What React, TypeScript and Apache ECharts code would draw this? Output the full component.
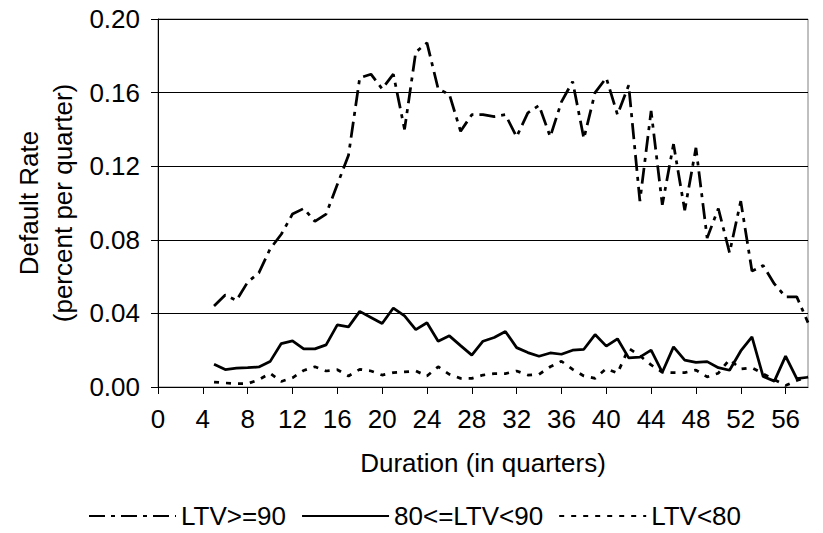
import React, { useEffect, useRef } from "react";
import * as echarts from "echarts";

const durations = [5, 6, 7, 8, 9, 10, 11, 12, 13, 14, 15, 16, 17, 18, 19, 20, 21, 22, 23, 24, 25, 26, 27, 28, 29, 30, 31, 32, 33, 34, 35, 36, 37, 38, 39, 40, 41, 42, 43, 44, 45, 46, 47, 48, 49, 50, 51, 52, 53, 54, 55, 56, 57, 58];

const ltvGe90 = [0.044, 0.050, 0.047, 0.057, 0.062, 0.075, 0.083, 0.094, 0.097, 0.090, 0.094, 0.110, 0.126, 0.168, 0.170, 0.162, 0.170, 0.140, 0.182, 0.187, 0.162, 0.159, 0.139, 0.148, 0.148, 0.147, 0.148, 0.136, 0.149, 0.153, 0.136, 0.155, 0.166, 0.135, 0.160, 0.168, 0.148, 0.164, 0.101, 0.150, 0.099, 0.132, 0.096, 0.130, 0.081, 0.097, 0.073, 0.101, 0.063, 0.066, 0.056, 0.049, 0.049, 0.035];

const ltv80to90 = [0.0124, 0.0095, 0.0102, 0.0105, 0.0109, 0.0138, 0.0236, 0.0251, 0.0207, 0.0207, 0.0229, 0.0338, 0.0327, 0.0411, 0.0378, 0.0345, 0.0429, 0.0387, 0.0312, 0.0349, 0.0249, 0.0278, 0.0225, 0.0173, 0.0249, 0.0269, 0.0302, 0.0214, 0.0187, 0.0167, 0.0185, 0.0178, 0.0200, 0.0205, 0.0285, 0.0222, 0.0262, 0.0158, 0.0162, 0.0200, 0.0080, 0.0218, 0.0146, 0.0134, 0.0138, 0.0105, 0.0091, 0.0196, 0.0272, 0.0057, 0.0032, 0.0168, 0.0045, 0.0053];

const ltvLt80 = [0.0027, 0.0022, 0.0018, 0.0018, 0.0040, 0.0075, 0.0030, 0.0050, 0.0090, 0.0110, 0.0087, 0.0094, 0.0060, 0.0096, 0.0087, 0.0065, 0.0078, 0.0082, 0.0087, 0.0060, 0.0110, 0.0069, 0.0047, 0.0047, 0.0065, 0.0073, 0.0073, 0.0087, 0.0065, 0.0069, 0.0110, 0.0140, 0.0096, 0.0060, 0.0047, 0.0100, 0.0075, 0.0210, 0.0170, 0.0120, 0.0080, 0.0078, 0.0078, 0.0092, 0.0055, 0.0075, 0.0150, 0.0098, 0.0105, 0.0072, 0.0040, 0.0008, 0.0035, 0.0055];

const seriesNames = ["LTV>=90", "80<=LTV<90", "LTV<80"];
const xTicks = [0, 4, 8, 12, 16, 20, 24, 28, 32, 36, 40, 44, 48, 52, 56];
const xTitle = "Duration (in quarters)";
const yTitle = "Default Rate\n(percent per quarter)";

const FONT = "'Liberation Sans', Arial, sans-serif";
const FS = 26;

export default function App() {
  const ref = useRef<HTMLDivElement>(null);
  useEffect(() => {
    if (!ref.current) return;
    const chart = echarts.init(ref.current, undefined, { renderer: "svg" });
    const zip = (vals: number[]) => durations.map((d, i) => [d, vals[i]]);
    const option: any = {
      animation: false,
      backgroundColor: "#ffffff",
      textStyle: { fontFamily: FONT, color: "#000" },
      grid: {
        left: 158,
        right: 15,
        top: 19,
        bottom: 146,
        show: true,
        borderColor: "#808080",
        borderWidth: 1,
      },
      xAxis: {
        type: "value",
        min: 0,
        max: 58,
        interval: 4,
        axisLine: { show: true, lineStyle: { color: "#000", width: 1 } },
        axisTick: { show: true, length: 7, customValues: xTicks, lineStyle: { color: "#000" } },
        axisLabel: { customValues: xTicks, fontSize: FS, color: "#000", margin: 19, fontFamily: FONT },
        splitLine: { show: false },
        name: xTitle,
        nameLocation: "middle",
        nameGap: 63,
        nameTextStyle: { fontSize: FS, color: "#000", fontFamily: FONT },
      },
      yAxis: {
        type: "value",
        min: 0,
        max: 0.2,
        interval: 0.04,
        axisLine: { show: true, lineStyle: { color: "#000", width: 1 } },
        axisTick: { show: true, length: 7, lineStyle: { color: "#000" } },
        axisLabel: {
          fontSize: FS,
          color: "#000",
          margin: 18,
          fontFamily: FONT,
          formatter: (v: number) => v.toFixed(2),
        },
        splitLine: { show: true, lineStyle: { color: "#000", width: 1 } },
      },
      legend: {
        data: seriesNames,
        top: 503,
        left: 88,
        padding: 0,
        itemWidth: 87,
        itemHeight: 14,
        itemGap: 15,
        itemStyle: { opacity: 0, color: "transparent", borderWidth: 0 },
        textStyle: { fontSize: FS, lineHeight: 26, color: "#000", fontFamily: FONT },
      },
      graphic: [
        {
          type: "text",
          x: 46,
          y: 203,
          rotation: Math.PI / 2,
          style: {
            text: yTitle,
            fontSize: FS,
            fontFamily: FONT,
            fill: "#000",
            align: "center",
            verticalAlign: "middle",
            lineHeight: 34,
          },
        },
      ],
      series: [
        {
          name: seriesNames[0],
          type: "line",
          data: zip(ltvGe90),
          symbol: "none",
          itemStyle: { color: "#000" },
          lineStyle: { color: "#000", width: 2.75, type: [16, 6, 4, 6] },
        },
        {
          name: seriesNames[1],
          type: "line",
          data: zip(ltv80to90),
          symbol: "none",
          itemStyle: { color: "#000" },
          lineStyle: { color: "#000", width: 2.75, type: "solid" },
        },
        {
          name: seriesNames[2],
          type: "line",
          data: zip(ltvLt80),
          symbol: "none",
          itemStyle: { color: "#000" },
          lineStyle: { color: "#000", width: 2.75, type: [5, 7] },
        },
      ],
    };
    chart.setOption(option);
    return () => chart.dispose();
  }, []);
  return (
    <div
      ref={ref}
      style={{ position: "fixed", left: 0, top: 0, width: 823, height: 533, background: "#fff" }}
    />
  );
}
